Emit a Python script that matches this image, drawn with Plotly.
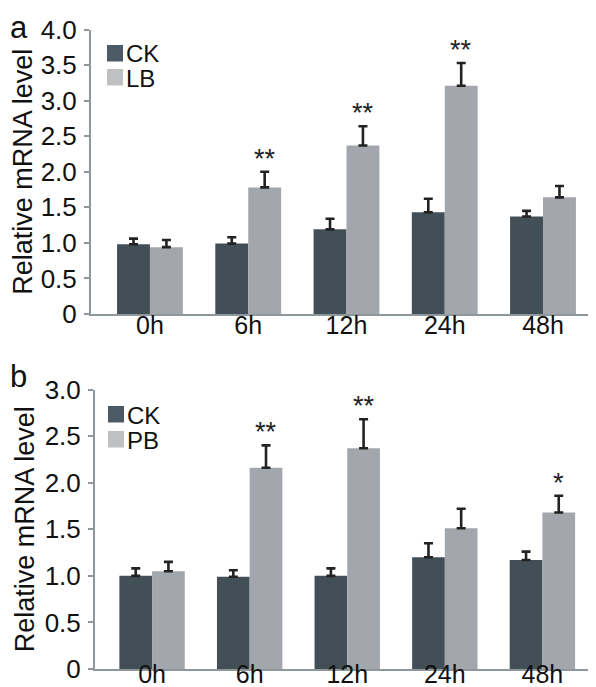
import plotly.graph_objects as go

W, H = 596, 687

# ---------------- data ----------------
timepoints = ["0h", "6h", "12h", "24h", "48h"]

a_ck = [0.98, 0.99, 1.19, 1.43, 1.37]
a_ck_err = [0.08, 0.09, 0.15, 0.19, 0.08]
a_lb = [0.94, 1.78, 2.37, 3.21, 1.64]
a_lb_err = [0.10, 0.22, 0.27, 0.32, 0.16]
a_sig = ["", "**", "**", "**", ""]

b_ck = [1.00, 0.99, 1.00, 1.20, 1.17]
b_ck_err = [0.08, 0.07, 0.08, 0.15, 0.09]
b_pb = [1.05, 2.16, 2.37, 1.51, 1.68]
b_pb_err = [0.10, 0.24, 0.31, 0.21, 0.18]
b_sig = ["", "**", "**", "", "*"]

a_ticks = [0, 0.5, 1.0, 1.5, 2.0, 2.5, 3.0, 3.5, 4.0]
a_ticktext = ["0", "0.5", "1.0", "1.5", "2.0", "2.5", "3.0", "3.5", "4.0"]
b_ticks = [0, 0.5, 1.0, 1.5, 2.0, 2.5, 3.0]
b_ticktext = ["0", "0.5", "1.0", "1.5", "2.0", "2.5", "3.0"]

ytitle = "Relative mRNA level"

# ---------------- style ----------------
DARK = "#434f57"
LIGHT = "#a3a6ad"
DARK_LEG = "#4b5a65"
LIGHT_LEG = "#bfc0c2"
AXIS = "#8e979c"
ERR = "#222222"
FONT = "Liberation Sans, Arial, sans-serif"
BARGAP = 0.33


def px_x(px):
    return px / W


def px_y(py):
    return 1 - py / H


panels = [
    dict(xa="x", ya="y", xdom=[px_x(83), px_x(592)], ydom=[px_y(306), px_y(21.5)],
         xr=[-0.6, 4.58], yr=[0, 4.0], ticks=a_ticks, ticktext=a_ticktext,
         s1=("CK", a_ck, a_ck_err), s2=("LB", a_lb, a_lb_err), sig=a_sig,
         label="a", label_y=0, label_shift=0, leg_x=99, leg_y=[37, 61], xstand=-12),
    dict(xa="x2", ya="y2", xdom=[px_x(87), px_x(591)], ydom=[px_y(661), px_y(381.5)],
         xr=[-0.585, 4.58], yr=[0, 3.0], ticks=b_ticks, ticktext=b_ticktext,
         s1=("CK", b_ck, b_ck_err), s2=("PB", b_pb, b_pb_err), sig=b_sig,
         label="b", label_y=361, label_shift=12, leg_x=100, leg_y=[398, 423], xstand=-18),
]

fig = go.Figure()
annotations = []
shapes = []

for i, p in enumerate(panels):
    for (name, vals, errs), color, leg_color, row in (
        (p["s1"], DARK, DARK_LEG, 0), (p["s2"], LIGHT, LIGHT_LEG, 1)
    ):
        fig.add_trace(go.Bar(
            x=timepoints, y=vals, name=name, marker_color=color,
            marker_line_width=0, xaxis=p["xa"], yaxis=p["ya"], showlegend=False,
            error_y=dict(type="data", array=errs, arrayminus=[0] * len(errs),
                         symmetric=False, color=ERR, thickness=2.6, width=4.5),
        ))
        # legend (manual, compact like the original)
        sy = p["leg_y"][row]
        shapes.append(dict(type="rect", xref="paper", yref="paper",
                           x0=px_x(p["leg_x"]), x1=px_x(p["leg_x"] + 16),
                           y0=px_y(sy + 16.5), y1=px_y(sy),
                           fillcolor=leg_color, line_width=0))
        annotations.append(dict(xref="paper", yref="paper", x=px_x(p["leg_x"] + 17),
                                y=px_y(sy + 8.5), text=name, showarrow=False,
                                xanchor="left", yanchor="middle", height=20,
                                font=dict(family=FONT, size=24, color="#111111")))

    # significance marks over the second series
    px_per_cat = (p["xdom"][1] - p["xdom"][0]) * W / (p["xr"][1] - p["xr"][0])
    off = px_per_cat * (1 - BARGAP) / 4
    _, vals, errs = p["s2"]
    for t, v, e, s in zip(timepoints, vals, errs, p["sig"]):
        if s:
            annotations.append(dict(xref=p["xa"], yref=p["ya"], x=t, y=v + e,
                                    text=s, showarrow=False, xshift=off,
                                    yanchor="bottom", yshift=-4,
                                    font=dict(family=FONT, size=27, color="#222222")))
    annotations.append(dict(xref="paper", yref="paper", x=0, y=px_y(p["label_y"]),
                            text=p["label"], showarrow=False, xanchor="left",
                            yanchor="top", yshift=p["label_shift"],
                            font=dict(family=FONT, size=31, color="#111111")))

    xkey = "xaxis" if i == 0 else "xaxis2"
    ykey = "yaxis" if i == 0 else "yaxis2"
    fig.update_layout(**{
        xkey: dict(domain=p["xdom"], anchor=p["ya"], range=p["xr"], type="category",
                   showline=True, linecolor=AXIS, linewidth=2, ticks="", ticklen=0,
                   showgrid=False, zeroline=False, ticklabelstandoff=p["xstand"],
                   tickfont=dict(family=FONT, size=25, color="#111111")),
        ykey: dict(domain=p["ydom"], anchor=p["xa"], range=p["yr"],
                   tickvals=p["ticks"], ticktext=p["ticktext"],
                   showline=True, linecolor=AXIS, linewidth=2, ticks="outside",
                   ticklen=5, tickwidth=2, tickcolor=AXIS, showgrid=False,
                   zeroline=False, ticklabelstandoff=2,
                   tickfont=dict(family=FONT, size=26, color="#111111"),
                   title=dict(text=ytitle, standoff=2,
                              font=dict(family=FONT, size=27, color="#111111"))),
    })

fig.update_layout(
    width=W, height=H, barmode="group", bargap=BARGAP, bargroupgap=0,
    margin=dict(l=0, r=0, t=0, b=0, autoexpand=False),
    paper_bgcolor="white", plot_bgcolor="white",
    annotations=annotations, shapes=shapes, showlegend=False,
)

fig.write_html("out.html")
